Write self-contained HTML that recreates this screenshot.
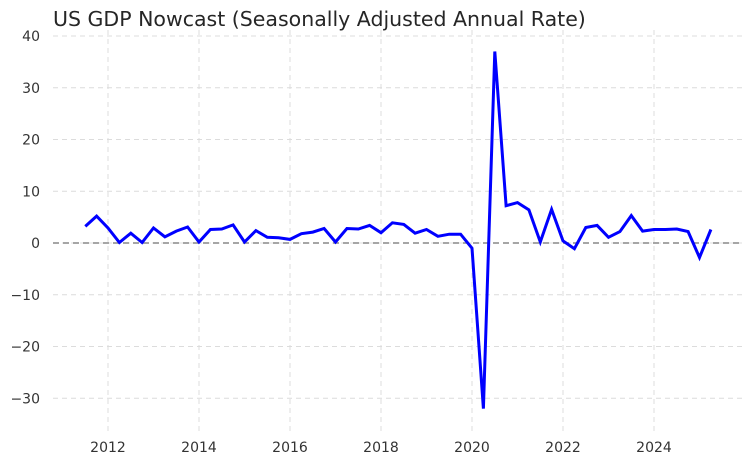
<!DOCTYPE html>
<html><head><meta charset="utf-8"><style>
body{margin:0;background:#fff;font-family:"DejaVu Sans","Liberation Sans",sans-serif}
svg text{font-family:"DejaVu Sans","Liberation Sans",sans-serif}
</style></head><body>
<svg id="chart" width="752" height="464" viewBox="0 0 752 464" xmlns="http://www.w3.org/2000/svg">
<text x="53" y="26" font-size="20.5" fill="#262626">US GDP Nowcast (Seasonally Adjusted Annual Rate)</text>
<g id="grid"></g><g id="axes"></g><g id="series"></g>
</svg>
<script>
const startYear = 2011.5;
const gdpValues = [3.2,5.2,2.9,0.1,1.9,0.1,2.9,1.2,2.3,3.1,0.2,2.6,2.7,3.5,0.2,2.4,1.1,1.0,0.7,1.8,2.1,2.8,0.2,2.8,2.7,3.4,2.0,3.9,3.6,1.9,2.6,1.3,1.7,1.7,-1.0,-32,37,7.2,7.8,6.4,0.2,6.5,0.4,-1.1,3.0,3.4,1.1,2.2,5.3,2.3,2.6,2.6,2.7,2.2,-2.8,2.6];
const xTicks = [2012,2014,2016,2018,2020,2022,2024];
const yTicks = [-30,-20,-10,0,10,20,30,40];
const NS="http://www.w3.org/2000/svg";
function x(v){return 108+(v-2012)*45.5;}
function y(v){return 243-v*5.175;}
function mk(t,a,p){const e=document.createElementNS(NS,t);for(const k in a)e.setAttribute(k,a[k]);p.appendChild(e);return e;}
const grid=document.getElementById('grid'),axes=document.getElementById('axes'),series=document.getElementById('series');
yTicks.forEach(v=>{
  const l=mk('line',{x1:53,x2:743,y1:y(v),y2:y(v),stroke:'#dcdcdc','stroke-dasharray':'5,4','stroke-width':1},grid);
  
  
  const t=mk('text',{x:40,y:y(v)+5,'text-anchor':'end','font-size':14,fill:'#333'},axes);
  t.textContent=v<0?'\u2212'+Math.abs(v):String(v);
  
  
});
xTicks.forEach(v=>{
  const l=mk('line',{x1:x(v),x2:x(v),y1:30,y2:432,stroke:'#dcdcdc','stroke-dasharray':'5,4','stroke-width':1},grid);
  
  
  const t=mk('text',{x:x(v),y:452,'text-anchor':'middle','font-size':14,fill:'#333'},axes);
  t.textContent=String(v);
  
  
});
const z=mk('line',{x1:53,x2:743,y1:y(0),y2:y(0),stroke:'#888','stroke-dasharray':'6,4','stroke-width':1.6},series);


const pts=gdpValues.map((v,i)=>x(startYear+i*0.25).toFixed(1)+','+y(v).toFixed(1)).join(' ');
const pl=mk('polyline',{points:pts,fill:'none',stroke:'#0000ff','stroke-width':3,'stroke-linejoin':'miter','stroke-miterlimit':10},series);


</script>
</body></html>
